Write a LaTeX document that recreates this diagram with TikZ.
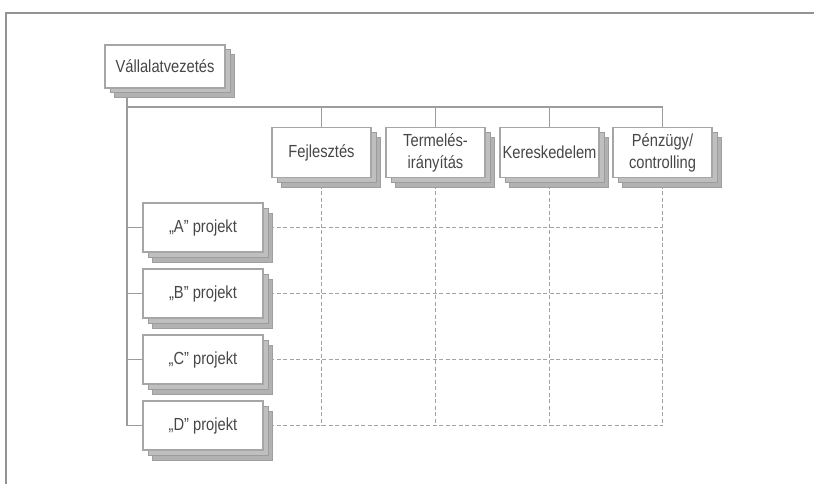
\documentclass[tikz,border=0pt]{standalone}
\usepackage{fontspec}
\setmainfont{Liberation Sans}
\newfontfamily\boxfont[FakeStretch=0.84]{Liberation Sans}
\usetikzlibrary{shadows,backgrounds}

\begin{document}
\begin{tikzpicture}[x=1pt,y=-1pt,
  orgbox/.style={draw=gray!70, fill=white, line width=1.4pt,
    minimum width=99pt, minimum height=50pt, inner sep=1pt,
    align=center, text=black!72,
    font=\boxfont\fontsize{17.5}{22}\selectfont,
    general shadow={shadow xshift=9.5pt, shadow yshift=-10pt,
      fill=gray!60, draw=gray!75, line width=1pt},
    general shadow={shadow xshift=5pt, shadow yshift=-5pt,
      fill=gray!50, draw=gray!78, line width=1pt}},
  rowbox/.style={orgbox, minimum width=120pt, minimum height=49pt},
  topbox/.style={orgbox, minimum width=120pt, minimum height=43pt},
  link/.style={draw=gray!78, line width=1.7pt},
  grid/.style={draw=gray!72, line width=1.3pt, dash pattern=on 4pt off 2.5pt},
  frame/.style={draw=gray!85, line width=2.6pt}]

\useasboundingbox (0,0) rectangle (814,484);
\draw[frame] (6,484) -- (6,13) -- (814,13);

% management box
\node[topbox] (top) at (165,66.5) {Vállalatvezetés};

% functional departments
\node[orgbox] (c1) at (321.5,152.5) {Fejlesztés};
\node[orgbox] (c2) at (435.5,152.5) {Termelés-\\irányítás};
\node[orgbox] (c3) at (549.5,152.5) {Kereskedelem};
\node[orgbox] (c4) at (662.5,152.5) {Pénzügy/\\controlling};

% projects
\node[rowbox] (p1) at (203,227.5) {„A” projekt};
\node[rowbox] (p2) at (203,293.5) {„B” projekt};
\node[rowbox] (p3) at (203,359.5) {„C” projekt};
\node[rowbox] (p4) at (203,425.5) {„D” projekt};

% bus coordinates
\coordinate (trunk) at (127,88);
\coordinate (bus) at (127,107);

\begin{scope}[on background layer]
  % matrix grid
  \foreach \r in {p1,p2,p3,p4}
    \draw[grid] (\r.east) -- (\r -| c4);
  \foreach \c in {c1,c2,c3,c4}
    \draw[grid] (\c.south) -- (\c |- p4);
  % solid tree
  \draw[link] (trunk) -- (trunk |- p4) -- (p4.west);
  \draw[link] (bus) -- (bus -| c4) -- (c4.north);
  \foreach \c in {c1,c2,c3}
    \draw[link] (bus -| \c) -- (\c.north);
  \foreach \r in {p1,p2,p3}
    \draw[link] (trunk |- \r) -- (\r.west);
\end{scope}
\end{tikzpicture}
\end{document}
